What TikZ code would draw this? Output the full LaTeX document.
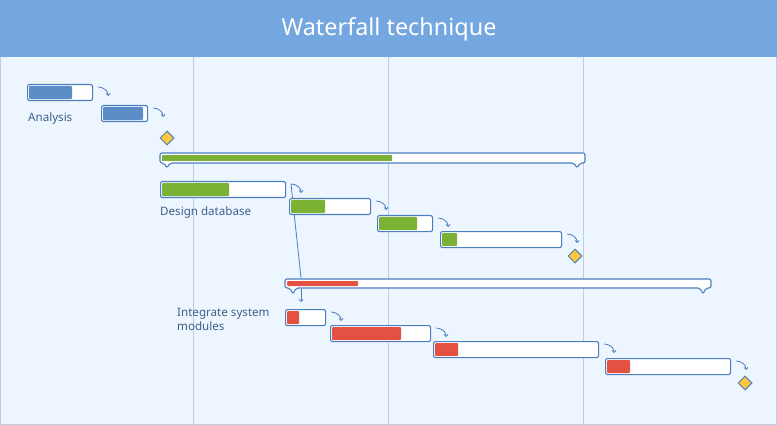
\documentclass[tikz,border=0pt]{standalone}
\usepackage{fontspec}
\setmainfont{Noto Sans}
\usepackage{xcolor}
\usetikzlibrary{arrows.meta, positioning, shapes.geometric}

\definecolor{headblue}{HTML}{74A6E0}
\definecolor{paneblue}{HTML}{EDF5FE}
\definecolor{gridblue}{HTML}{B9CFE3}
\definecolor{edgeblue}{HTML}{4B7FC1}
\definecolor{textblue}{HTML}{3D5F8C}
\definecolor{bluebar}{HTML}{5C8DC7}
\definecolor{greenbar}{HTML}{7BB134}
\definecolor{redbar}{HTML}{E45042}
\definecolor{mileyellow}{HTML}{FFC83C}

\begin{document}
\begin{tikzpicture}[
    x=1pt, y=-1pt,
    every node/.style={font=\fontsize{11.6}{14}\selectfont, text=textblue},
    task/.style={rectangle, draw=edgeblue, fill=white, rounded corners=2pt, line width=1.1pt,
        minimum height=16pt, inner sep=0pt, anchor=north west},
    summary/.style={draw=edgeblue, fill=white, line width=1.1pt, rounded corners=2pt},
    milestone/.style={diamond, draw=edgeblue, fill=mileyellow, line width=1pt,
        minimum width=14pt, minimum height=14pt, inner sep=0pt},
    label/.style={anchor=west, align=left, inner sep=0pt},
    link/.style={edgeblue, line width=0.8pt, -{Straight Barb[length=2pt, width=4pt]}}
]
    % frame and header
    \fill[paneblue] (0,0) rectangle (777,425);
    \useasboundingbox (0,0) rectangle (777,425);
    \foreach \gx in {193, 388, 583}
        \draw[gridblue, line width=0.8pt] (\gx,57) -- (\gx,425);
    \draw[gridblue, line width=1pt] (0.5,57) -- (0.5,424.5) -- (776.5,424.5) -- (776.5,57);
    \fill[headblue] (0,0) rectangle (777,57);
    \node[text=white, font=\fontsize{23.4}{26}\selectfont] (title) at (389,29) {Waterfall technique};

    % summary bars
    \draw[summary] (160,153) -- (585,153) -- (585,163) -- (580,163) -- (577,168) -- (574,163)
        -- (170,163) -- (167,168) -- (164,163) -- (160,163) -- cycle;
    \fill[greenbar] (162,155) rectangle (392,161);
    \coordinate (dlink) at (301,278);
    \draw[edgeblue, line width=0.8pt] (291,184) -- (dlink);

    \draw[summary] (285,279) -- (711,279) -- (711,288) -- (706,288) -- (703,294) -- (700,288)
        -- (296,288) -- (293,294) -- (290,288) -- (285,288) -- cycle;
    \fill[redbar, rounded corners=1pt] (287,281) rectangle (358,286);

    % tasks: name/x/y/width/progress/colour
    \foreach \n/\tx/\ty/\tw/\tp/\tc in {
        a1/27/84/65/45/bluebar, a2/101/105/46/42/bluebar,
        d1/160/181/125/69/greenbar, d2/289/198/81/36/greenbar,
        d3/377/215/55/40/greenbar, d4/440/231/121/17/greenbar,
        i1/285/309/40/14/redbar, i2/330/325/100/71/redbar,
        i3/433/341/165/25/redbar, i4/605/358/125/25/redbar} {
        \node[task, minimum width=\tw pt] (\n) at (\tx,\ty) {};
        \fill[\tc, rounded corners=1pt] ([shift={(2pt,-2pt)}]\n.north west)
            rectangle ([shift={(\tp pt,2pt)}]\n.south west);
    }

    % milestones
    \node[milestone] (m1) at (167,138) {};
    \node[milestone] (m2) at (575,256) {};
    \node[milestone] (m3) at (745,383) {};

    % labels
    \node[label] (analysis) at (28,118) {Analysis};
    \node[label] (design) at (160,212) {Design database};
    \node[label] (integrate) at (177,319) {Integrate system\\modules};

    % dependencies
    \foreach \s in {a1, a2, d1, d2, d3, d4, i1, i2, i3, i4}
        \draw[link] ([shift={(5pt,-3pt)}]\s.north east) to[out=0, in=90]
            ([shift={(15pt,-12pt)}]\s.north east);
    \draw[link] (dlink |- 0,289) -- ([xshift=16pt, yshift=7pt]i1.north west);
\end{tikzpicture}
\end{document}
